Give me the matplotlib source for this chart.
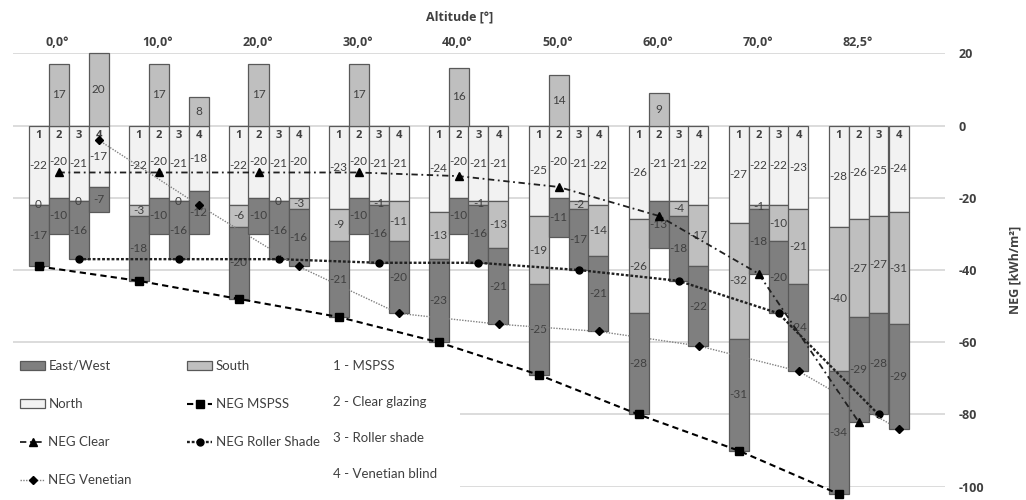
import matplotlib.pyplot as plt
from matplotlib.patches import Patch

plt.rcParams['font.family'] = ['Lato', 'DejaVu Sans']
# heavier family for the bold headings and axis numbers
bold_font = ['Open Sans', 'DejaVu Sans']

altitudes = ["0,0°", "10,0°", "20,0°", "30,0°", "40,0°", "50,0°", "60,0°", "70,0°", "82,5°"]
system_ids = ["1", "2", "3", "4"]
system_names = ["1 - MSPSS", "2 - Clear glazing", "3 - Roller shade", "4 - Venetian blind"]

# facade contributions [kWh/m2]; one row per altitude, columns = systems 1..4
north = [
    [-22, -20, -21, -17],
    [-22, -20, -21, -18],
    [-22, -20, -21, -20],
    [-23, -20, -21, -21],
    [-24, -20, -21, -21],
    [-25, -20, -21, -22],
    [-26, -21, -21, -22],
    [-27, -22, -22, -23],
    [-28, -26, -25, -24],
]
south = [
    [0, 17, 0, 20],
    [-3, 17, 0, 8],
    [-6, 17, 0, -3],
    [-9, 17, -1, -11],
    [-13, 16, -1, -13],
    [-19, 14, -2, -14],
    [-26, 9, -4, -17],
    [-32, -1, -10, -21],
    [-40, -27, -27, -31],
]
east_west = [
    [-17, -10, -16, -7],
    [-18, -10, -16, -12],
    [-20, -10, -16, -16],
    [-21, -10, -16, -20],
    [-23, -10, -16, -21],
    [-25, -11, -17, -21],
    [-28, -13, -18, -22],
    [-31, -18, -20, -24],
    [-34, -29, -28, -29],
]

# net energy gain per system
neg_mspss = [-39, -43, -48, -53, -60, -69, -80, -90, -102]
neg_clear = [-13, -13, -13, -13, -14, -17, -25, -41, -82]
neg_roller = [-37, -37, -37, -38, -38, -40, -43, -52, -80]
neg_venetian = [-4, -22, -39, -52, -55, -57, -61, -68, -84]

yticks = [20, 0, -20, -40, -60, -80, -100]

c_ew, c_south, c_north = '#7f7f7f', '#bfbfbf', '#f2f2f2'
edge = '#595959'
txt = '#404040'
grid_c = '#d9d9d9'
w = 0.2

fig = plt.figure(figsize=(10.26, 5), dpi=100)
ax = fig.add_axes([13 / 1026, 1 - 486.7 / 500, (945 - 13) / 1026, 433.4 / 500])
ax.set_xlim(-0.555, 8.765)
ax.set_ylim(-100, 20)

# gridlines (the bottom two start right of the legend block)
for y in yticks:
    x0 = -0.555 if y > -70 else 3.915
    ax.hlines(y, x0, 8.765, color=grid_c, lw=1.3, zorder=0)

for g in range(len(altitudes)):
    for i in range(4):
        x = g + (i - 1.5) * w
        n, s, e = north[g][i], south[g][i], east_west[g][i]
        ax.bar(x, n, bottom=0, width=w, color=c_north, edgecolor=edge, lw=0.9, zorder=2, clip_on=False)
        ax.text(x, n / 2, str(n), ha='center', va='center', fontsize=8.5, color=txt, zorder=3)
        if s > 0:
            # positive south gain stacks upward from zero
            ax.bar(x, s, bottom=0, width=w, color=c_south, edgecolor=edge, lw=0.9, zorder=2, clip_on=False)
            ax.text(x, s / 2, str(s), ha='center', va='center', fontsize=8.5, color=txt, zorder=3)
            low = n
        else:
            ax.bar(x, s, bottom=n, width=w, color=c_south, edgecolor=edge, lw=0.9, zorder=2, clip_on=False)
            ax.text(x, n + s / 2, str(s), ha='center', va='center', fontsize=8.5, color=txt, zorder=3)
            low = n + s
        ax.bar(x, e, bottom=low, width=w, color=c_ew, edgecolor=edge, lw=0.9, zorder=2, clip_on=False)
        ax.text(x, low + e / 2, str(e), ha='center', va='center', fontsize=8.5, color=txt, zorder=3)
        ax.annotate(system_ids[i], (x, 0), xytext=(0, -3), textcoords='offset points',
                    ha='center', va='top', fontsize=8, fontweight='bold', family=bold_font,
                    color=txt, zorder=3)
    ax.annotate(altitudes[g], (g - 0.11, 20), xytext=(0, 8), textcoords='offset points',
                ha='center', va='center', fontsize=9, fontweight='bold', family=bold_font,
                color=txt, annotation_clip=False)

gx = range(len(altitudes))
l_mspss, = ax.plot([g - 1.5 * w for g in gx], neg_mspss, color='black', lw=1.5, ls=(0, (3, 2)),
                   marker='s', ms=5.5, zorder=5, clip_on=False, label='NEG MSPSS')
l_clear, = ax.plot([g - 0.5 * w for g in gx], neg_clear, color='#202020', lw=1.3, ls=(0, (3.5, 2, 1, 2)),
                   marker='^', ms=5.5, mfc='black', mec='black', zorder=5, clip_on=False, label='NEG Clear')
l_roller, = ax.plot([g + 0.5 * w for g in gx], neg_roller, color='#202020', lw=1.7, ls=(0, (1.2, 0.8)),
                    marker='o', ms=5, mfc='black', mec='black', zorder=5, clip_on=False, label='NEG Roller Shade')
l_ven, = ax.plot([g + 1.5 * w for g in gx], neg_venetian, color='#808080', lw=1, ls=(0, (1, 1)),
                 marker='D', ms=4, mfc='black', mec='black', zorder=5, clip_on=False, label='NEG Venetian')

for s in ax.spines.values():
    s.set_visible(False)
ax.set_xticks([])
ax.yaxis.tick_right()
ax.set_yticks(yticks, labels=[str(t) for t in yticks], fontweight='bold', family=bold_font)
ax.tick_params(axis='y', length=0, pad=10, labelsize=9, labelcolor=txt)

fig.text(1015 / 1026, 1 - 270 / 500, "NEG [kWh/m²]", rotation=90, ha='center', va='center',
         fontsize=9, fontweight='bold', family=bold_font, color=txt)
fig.text(460 / 1026, 1 - 17 / 500, "Altitude [°]", ha='center', va='center',
         fontsize=9, fontweight='bold', family=bold_font, color=txt)

h_ew = Patch(fc=c_ew, ec=edge, lw=0.9, label='East/West')
h_south = Patch(fc=c_south, ec=edge, lw=0.9, label='South')
h_north = Patch(fc=c_north, ec=edge, lw=0.9, label='North')
handles = [h_ew, h_north, l_clear, l_ven, h_south, l_mspss, l_roller]
fig.legend(handles=handles, labels=[h.get_label() for h in handles], ncol=2, loc='upper left',
           bbox_to_anchor=(20 / 1026, 1 - 360 / 500), frameon=False, fontsize=9.5,
           labelcolor=txt, handlelength=1.9, handleheight=0.7, handletextpad=0.25,
           columnspacing=4.2, labelspacing=1.98, borderpad=0, borderaxespad=0, numpoints=1)

for k, name in enumerate(system_names):
    fig.text(333 / 1026, 1 - (366 + 36 * k) / 500, name, ha='left', va='center',
             fontsize=9.5, color=txt)

fig.savefig("out.png", dpi=100)
